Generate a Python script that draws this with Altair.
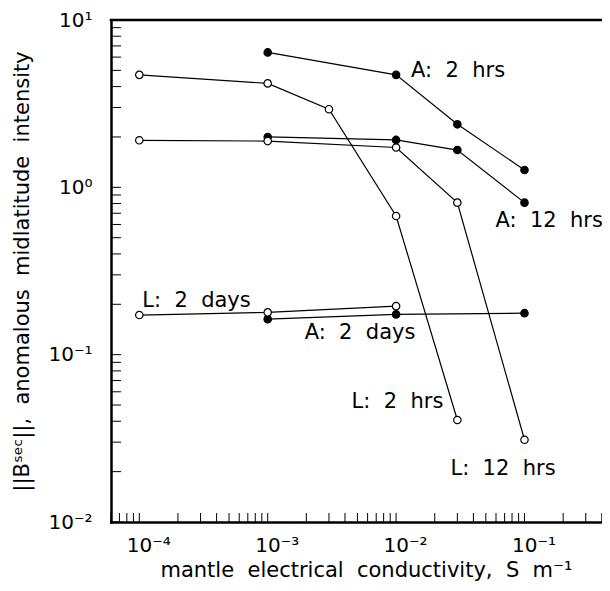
import altair as alt
import pandas as pd

# ---------------- data ----------------
series_names = ["A: 2 hrs", "A: 12 hrs", "A: 2 days", "L: 2 hrs", "L: 12 hrs", "L: 2 days"]
series_kind = ["A", "A", "A", "L", "L", "L"]

a2h_x = [1e-3, 1e-2, 3e-2, 1e-1]
a2h_y = [6.4, 4.7, 2.38, 1.27]

a12h_x = [1e-3, 1e-2, 3e-2, 1e-1]
a12h_y = [2.0, 1.92, 1.67, 0.81]

a2d_x = [1e-3, 1e-2, 1e-1]
a2d_y = [0.163, 0.174, 0.177]

l2h_x = [1e-4, 1e-3, 3e-3, 1e-2, 3e-2]
l2h_y = [4.7, 4.18, 2.93, 0.674, 0.0407]

l12h_x = [1e-4, 1e-3, 1e-2, 3e-2, 1e-1]
l12h_y = [1.91, 1.89, 1.73, 0.81, 0.031]

l2d_x = [1e-4, 1e-3, 1e-2]
l2d_y = [0.1725, 0.179, 0.195]

series_x = [a2h_x, a12h_x, a2d_x, l2h_x, l12h_x, l2d_x]
series_y = [a2h_y, a12h_y, a2d_y, l2h_y, l12h_y, l2d_y]

NB = "\u00a0 "  # wide word gap (non-breaking + normal space, so SVG keeps both)

# annotation text, attached to a point of its series (series index, point index)
label_texts = [f"A:{NB}2{NB}hrs", f"A:{NB}12{NB}hrs", f"A:{NB}2{NB}days",
               f"L:{NB}2{NB}hrs", f"L:{NB}12{NB}hrs", f"L:{NB}2{NB}days"]
label_anchor = [(0, 1), (1, 3), (2, 0), (3, 4), (4, 4), (5, 0)]
label_style = [  # dx, dy, align
    (15, 2, "left"),
    (-29, 24, "left"),
    (37, 20, "left"),
    (-14, -12, "right"),
    (-74, 35, "left"),
    (3, -8, "left"),
]

# axis tick values and labels
x_label_values = [1e-4, 1e-3, 1e-2, 1e-1]
x_label_texts = ["10⁻⁴", "10⁻³", "10⁻²", "10⁻¹"]
y_label_values = [1e-2, 1e-1, 1.0, 10.0]
y_label_texts = ["10⁻²", "10⁻¹", "10⁰", "10¹"]
x_minor_ticks = [m * 10.0 ** e for e in (-5, -4, -3, -2, -1) for m in range(1, 10)]
x_minor_ticks = [v for v in x_minor_ticks if 6e-5 <= v <= 0.4001]
y_minor_ticks = [m * 10.0 ** e for e in (-2, -1, 0) for m in range(1, 10)] + [10.0]

x_title = f"mantle{NB}electrical{NB}conductivity,{NB}S{NB}m⁻¹"
y_title = f"||Bˢᵉᶜ||,{NB}anomalous{NB}midlatitude{NB}intensity"

# ---------------- layout ----------------
W, H = 491, 502
FONT = "DejaVu Sans"

rows = []
for name, kind, xs_, ys_ in zip(series_names, series_kind, series_x, series_y):
    for xv, yv in zip(xs_, ys_):
        rows.append({"x": xv, "y": yv, "series": name, "kind": kind})
df = pd.DataFrame(rows)

xscale = alt.Scale(type="log", domain=[6.02e-5, 0.4015], nice=False)
yscale = alt.Scale(type="log", domain=[0.01, 10], nice=False)


def cond_expr(values, texts):
    expr = "'" + texts[-1] + "'"
    for v, t in reversed(list(zip(values[:-1], texts[:-1]))):
        expr = f"datum.value < {v * 3.0} ? '{t}' : " + expr
    return expr


x_axis = alt.Axis(
    values=x_label_values,
    labelExpr=cond_expr(x_label_values, x_label_texts),
    ticks=False, tickSize=0, grid=False,
    domain=True, domainColor="black", domainWidth=2.5, domainCap="square",
    labelFont=FONT, labelFontSize=20, labelColor="black",
    labelAlign="left", labelOffset=-13, labelBaseline="alphabetic", labelPadding=29,
    labelOverlap=False, labelFlush=False, labelBound=False,
    title=x_title, titleFont=FONT, titleFontSize=21, titleFontWeight="normal",
    titleColor="black", titleX=255, titleY=54, titleAlign="center",
    titleBaseline="alphabetic",
)
y_axis = alt.Axis(
    values=y_label_values,
    labelExpr=cond_expr(y_label_values, y_label_texts),
    ticks=False, tickSize=0, grid=False,
    domain=True, domainColor="black", domainWidth=2.5, domainCap="square",
    labelFont=FONT, labelFontSize=20, labelColor="black",
    labelAlign="right", labelBaseline="middle", labelPadding=19,
    labelOverlap=False, labelFlush=False, labelBound=False,
    title=y_title, titleFont=FONT, titleFontSize=21, titleFontWeight="normal",
    titleColor="black", titleAngle=270, titleX=-89, titleY=251,
    titleAlign="center", titleBaseline="middle",
)

X = alt.X("x:Q", scale=xscale, axis=x_axis)
Y = alt.Y("y:Q", scale=yscale, axis=y_axis)

lines = alt.Chart(df).mark_line(color="black", strokeWidth=1.2).encode(
    x=X, y=Y, detail="series:N",
)

points = alt.Chart(df).mark_point(
    shape="circle", size=55, filled=True, stroke="black", strokeWidth=1.2, opacity=1
).encode(
    x=X, y=Y,
    fill=alt.Fill("kind:N", scale=alt.Scale(domain=["A", "L"], range=["black", "white"]), legend=None),
)

xt = pd.DataFrame({"x": x_minor_ticks})
yt = pd.DataFrame({"y": y_minor_ticks})
xticks = alt.Chart(xt).mark_rule(color="black", strokeWidth=1).encode(
    x=X, y=alt.value(H), y2=alt.value(H - 9),
)
yticks = alt.Chart(yt).mark_rule(color="black", strokeWidth=1).encode(
    y=Y, x=alt.value(0), x2=alt.value(10),
)
top_line = alt.Chart(pd.DataFrame({"a": [0]})).mark_rule(
    color="black", strokeWidth=2.5, strokeCap="square"
).encode(x=alt.value(0), x2=alt.value(W), y=alt.value(0))

texts = []
for txt, (si, pi), (dx, dy, al) in zip(label_texts, label_anchor, label_style):
    d = pd.DataFrame({"x": [series_x[si][pi]], "y": [series_y[si][pi]], "t": [txt]})
    texts.append(
        alt.Chart(d).mark_text(
            font=FONT, fontSize=21, color="black", align=al, baseline="alphabetic", dx=dx, dy=dy
        ).encode(x=X, y=Y, text="t:N")
    )

chart = alt.layer(lines, xticks, yticks, top_line, points, *texts).properties(
    width=W, height=H,
    autosize=alt.AutoSizeParams(type="none"),
    padding={"left": 103, "top": 12, "right": 0, "bottom": 61},
    background="white",
).configure_view(stroke=None)

chart.save("out.html", embed_options={"renderer": "svg", "actions": False})
